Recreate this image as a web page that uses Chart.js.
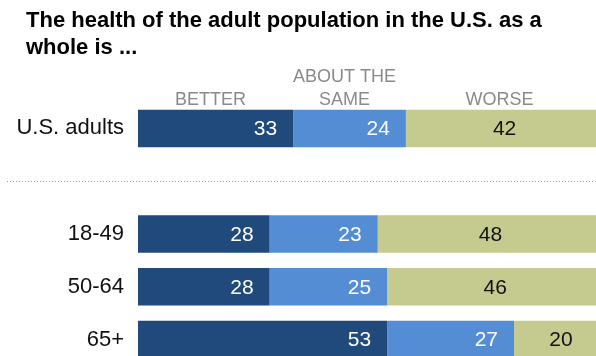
<!DOCTYPE html>
<html>
<head>
<meta charset="utf-8">
<script src="https://cdn.jsdelivr.net/npm/chart.js@4/dist/chart.umd.min.js"></script>
<style>
  html, body { margin: 0; padding: 0; background: #fff; overflow: hidden; }
  #c { display: block; }
</style>
</head>
<body>
<canvas id="c" width="610" height="366"></canvas>
<script>
// Survey rows; the blank row leaves room for the divider between total and age groups
const categories = ['U.S. adults', '', '18-49', '50-64', '65+'];
const better = [33, null, 28, 28, 53];
const aboutSame = [24, null, 23, 25, 27];
const worse = [42, null, 48, 46, 20];
const seriesNames = [['BETTER'], ['ABOUT THE', 'SAME'], ['WORSE']];
const titleLines = ['The health of the adult population in the U.S. as a', 'whole is ...'];

const colors = ['#204a7c', '#548dd4', '#c5cb8e'];
const labelColors = ['#ffffff', '#ffffff', '#111111'];

const overlay = {
  id: 'overlay',
  afterDatasetsDraw(chart) {
    const ctx = chart.ctx;
    const x = chart.scales.x, y = chart.scales.y;
    ctx.save();

    // title
    ctx.fillStyle = '#000';
    ctx.font = 'bold 22px "Liberation Sans", Arial, sans-serif';
    ctx.textAlign = 'left';
    ctx.textBaseline = 'alphabetic';
    titleLines.forEach((t, i) => ctx.fillText(t, 26, 27 + i * 26.5));

    // column headers centred over the first row's segments
    ctx.fillStyle = '#8a8a8a';
    ctx.font = '18px "Liberation Sans", Arial, sans-serif';
    ctx.textAlign = 'center';
    let start = 0;
    chart.data.datasets.forEach((ds, i) => {
      const v = ds.data[0];
      const cx = x.getPixelForValue(start + v / 2) - 5;
      const lines = seriesNames[i];
      lines.forEach((ln, j) => {
        ctx.fillText(ln, cx, 105 - (lines.length - 1 - j) * 23.5);
      });
      start += v;
    });

    // dotted divider through the blank row
    const dy = Math.round(y.getPixelForValue(1)) + 0.5;
    ctx.strokeStyle = '#9a9a9a';
    ctx.lineWidth = 1;
    ctx.setLineDash([1, 2]);
    ctx.beginPath();
    ctx.moveTo(7, dy);
    ctx.lineTo(chart.width, dy);
    ctx.stroke();
    ctx.setLineDash([]);

    // value labels
    ctx.font = '21px "Liberation Sans", Arial, sans-serif';
    ctx.textBaseline = 'middle';
    chart.data.datasets.forEach((ds, i) => {
      const meta = chart.getDatasetMeta(i);
      meta.data.forEach((bar, k) => {
        const v = ds.data[k];
        if (v == null) return;
        ctx.fillStyle = labelColors[i];
        if (i < 2) {
          ctx.textAlign = 'right';
          ctx.fillText(String(v), bar.x - 16, bar.y + 1);
        } else {
          ctx.textAlign = 'center';
          ctx.fillText(String(v), (bar.base + bar.x) / 2, bar.y + 1);
        }
      });
    });
    ctx.restore();
  }
};

new Chart(document.getElementById('c'), {
  type: 'bar',
  data: {
    labels: categories,
    datasets: [
      { label: 'Better', data: better, backgroundColor: colors[0] },
      { label: 'About the same', data: aboutSame, backgroundColor: colors[1] },
      { label: 'Worse', data: worse, backgroundColor: colors[2] }
    ]
  },
  options: {
    indexAxis: 'y',
    responsive: false,
    animation: false,
    devicePixelRatio: 1,
    layout: { padding: { top: 102, bottom: 0, left: 0, right: 2 } },
    datasets: { bar: { categoryPercentage: 0.71, barPercentage: 1, borderWidth: 0 } },
    scales: {
      x: { stacked: true, min: 0, max: 100, display: false },
      y: {
        stacked: true,
        grid: { display: false },
        border: { display: false },
        ticks: {
          color: '#111',
          padding: 6,
          font: { family: '"Liberation Sans", Arial, sans-serif', size: 22 }
        },
        afterFit(scale) { scale.width = 138; scale.paddingTop = 0; scale.paddingBottom = 0; }
      }
    },
    plugins: {
      legend: { display: false },
      tooltip: { enabled: false }
    }
  },
  plugins: [overlay]
});
</script>
</body>
</html>
